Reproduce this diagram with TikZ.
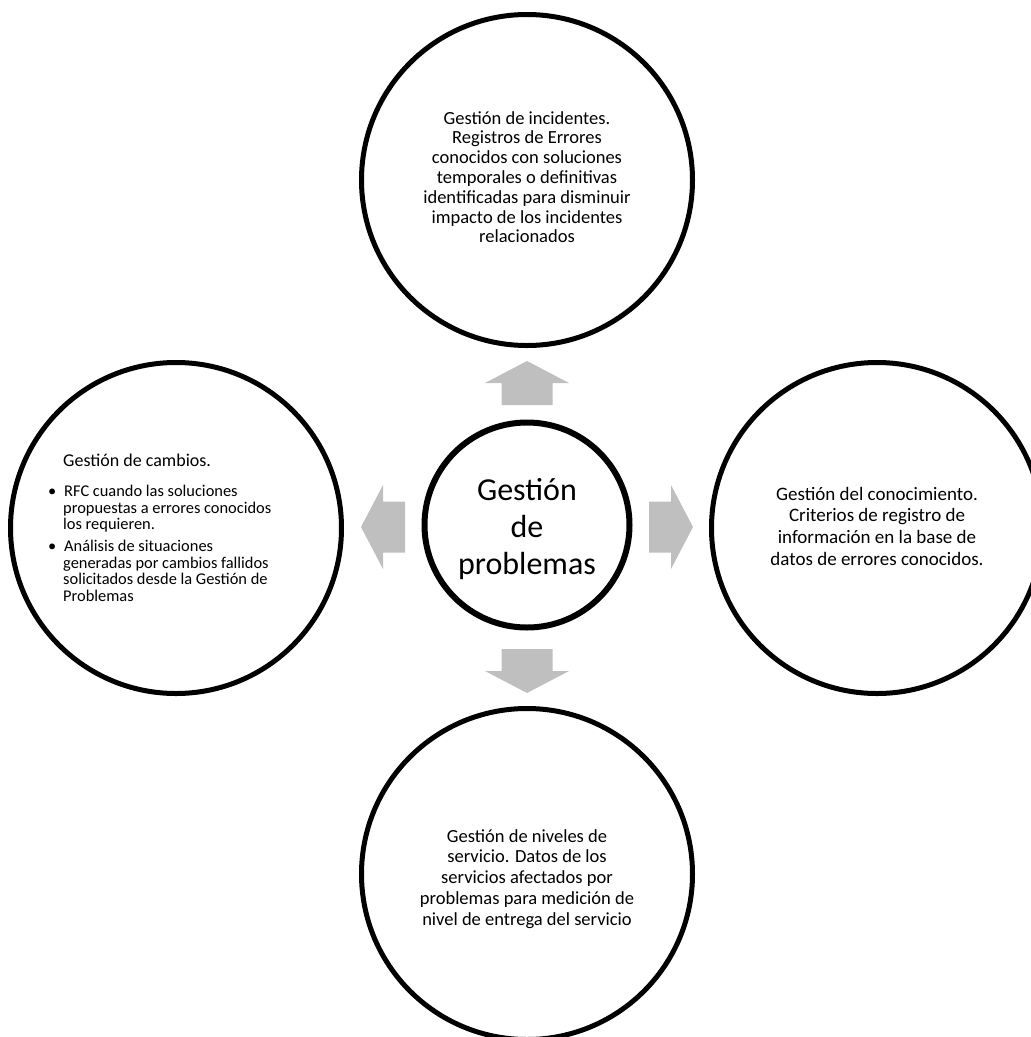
\documentclass[tikz,border=0pt]{standalone}
\usepackage{fontspec}
\setmainfont{Carlito}
\begin{document}
\begin{tikzpicture}[x=1pt,y=-1pt,
  outer/.style={draw=black,line width=5pt,circle,inner sep=0pt,minimum size=331pt},
  hub/.style={draw=black,line width=6pt,circle,inner sep=0pt,minimum size=205pt},
  label/.style={inner sep=0pt,anchor=base,text=black},
  blockarrow/.pic={
    \fill[arrowgray] (122,-25.5) -- (144,-25.5) -- (144,-42) -- (166,0)
      -- (144,42) -- (144,25.5) -- (122,25.5) -- cycle;
  }]
\definecolor{arrowgray}{RGB}{191,191,191}
\useasboundingbox (0,0) rectangle (1031,1037);
\clip (0,0) rectangle (1031,1037);

% circles
\node[hub]   (hubc)  at (527,525) {};
\node[outer] (topc)  at (527,180) {};
\node[outer] (leftc) at (176,528) {};
\node[outer] (rightc) at (877,528) {};
\node[outer] (botc)  at (527,874) {};

% block arrows pointing outward from the hub
\pic[rotate=90]  at (527,527) {blockarrow};
\pic[rotate=-90] at (527,527) {blockarrow};
\pic[rotate=0]   at (527,527) {blockarrow};
\pic[rotate=180] at (527,527) {blockarrow};

% texts
\node[label] (hubt) at (527,500) {\parbox[t]{200pt}{\centering\lineskiplimit=-100pt\fontsize{32}{37}\selectfont
  Gestión\\de\\problemas}};

\node[label] (topt) at (527,124) {\parbox[t]{300pt}{\centering\lineskiplimit=-100pt\fontsize{18.5}{19.8}\selectfont
  Gestión de incidentes.\\
  Registros de Errores\\
  conocidos con soluciones\\
  temporales o definitivas\\
  identificadas para disminuir\\
  impacto de los incidentes\\
  relacionados}};

\node[label] (rightt) at (877,500) {\parbox[t]{300pt}{\centering\lineskiplimit=-100pt\fontsize{19}{21.7}\selectfont
  Gestión del conocimiento.\\
  Criterios de registro de\\
  información en la base de\\
  datos de errores conocidos.}};

\node[label] (bott) at (527,842) {\parbox[t]{300pt}{\centering\lineskiplimit=-100pt\fontsize{18.5}{20.9}\selectfont
  Gestión de niveles de\\
  servicio. Datos de los\\
  servicios afectados por\\
  problemas para medición de\\
  nivel de entrega del servicio}};

\node[label,anchor=base west] (leftt) at (63,466) {\parbox[t]{260pt}{\raggedright\lineskiplimit=-100pt
  \fontsize{18}{20}\selectfont Gestión de cambios.\par
  \fontsize{16.4}{16.4}\selectfont
  \vspace{14.3pt}
  \noindent\hspace{1pt}\llap{\textbullet\hspace{8pt}}RFC cuando las soluciones\\
  propuestas a errores conocidos\\
  los requieren.\par
  \vspace{6pt}
  \noindent\hspace{1pt}\llap{\textbullet\hspace{8pt}}Análisis de situaciones\\
  generadas por cambios fallidos\\
  solicitados desde la Gestión de\\
  Problemas}};
\end{tikzpicture}
\end{document}
